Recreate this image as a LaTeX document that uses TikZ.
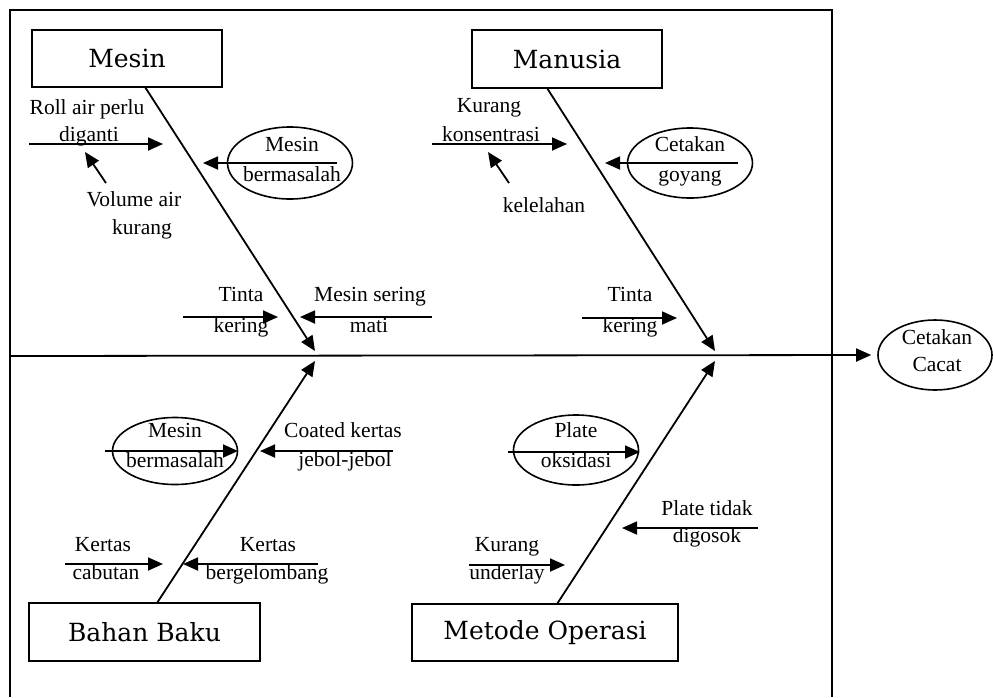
\documentclass[tikz,border=0pt]{standalone}
\usepackage{fontspec}
\setmainfont{Liberation Serif}
\newfontfamily\boxfont{DejaVu Serif}
\usetikzlibrary{arrows.meta,shapes.geometric}
\begin{document}
\begin{tikzpicture}[x=1pt,y=-1pt,
  lbl/.style={font=\fontsize{21.5}{24}\selectfont, inner sep=0pt, text height=14pt, text depth=5pt},
  cat/.style={draw, line width=1.8pt, font=\boxfont\fontsize{25}{30}\selectfont, inner sep=0pt},
  oval/.style={draw, ellipse, line width=1.6pt, inner sep=0pt},
  frame/.style={line width=1.5pt},
  arr/.style={line width=1.8pt, -{Triangle[length=15pt,width=13pt]}},
]
\useasboundingbox (0,0) rectangle (993,697);
\draw[frame] (10,697) -- (10,10) -- (832,10) -- (832,697);

% category boxes
\node[cat, minimum width=190pt, minimum height=57pt] (mesin) at (127,58.5) {Mesin};
\node[cat, minimum width=190pt, minimum height=58pt] (manusia) at (567,59) {Manusia};
\node[cat, minimum width=231pt, minimum height=58pt] (bahan) at (144.5,632) {Bahan Baku};
\node[cat, minimum width=266pt, minimum height=57pt] (metode) at (545,632.5) {Metode Operasi};

% effect
\node[oval, minimum width=114pt, minimum height=70pt] (effect) at (935,355) {};
\node[lbl] (effT1) at (937,340) {Cetakan};
\node[lbl] (effT2) at (937,367) {Cacat};

% spine
\coordinate (spineL) at (10,356);
\draw[arr] (spineL) -- ([xshift=-6pt]effect.west);

% bones
\coordinate (m0) at (145,87);   \coordinate (jm) at (315,351);
\coordinate (u0) at (547,88);   \coordinate (ju) at (715,351);
\coordinate (b0) at (157,603);  \coordinate (jb) at (315,361);
\coordinate (o0) at (557,604);  \coordinate (jo) at (715,361);
\draw[arr] (m0) -- (jm);
\draw[arr] (u0) -- (ju);
\draw[arr] (b0) -- (jb);
\draw[arr] (o0) -- (jo);

% ---- Mesin ----
\node[lbl] (t1a) at (87,110) {Roll air perlu};
\node[lbl] (t1b) at (89,137) {diganti};
\coordinate (a1s) at (29,144); \coordinate (a1e) at (163,144);
\draw[arr] (a1s) -- (a1e);
\node[lbl] (t2a) at (134,202) {Volume air};
\node[lbl] (t2b) at (142,230) {kurang};
\coordinate (a2s) at (106,183); \coordinate (a2e) at (85,152);
\draw[arr] (a2s) -- (a2e);
\node[oval, minimum width=125pt, minimum height=72pt] (e1) at (290,163) {};
\node[lbl] (e1a) at (292,147) {Mesin};
\node[lbl] (e1b) at (292,177) {bermasalah};
\coordinate (a3s) at (337,163); \coordinate (a3e) at (203,163);
\draw[arr] (a3s) -- (a3e);
\node[lbl] (t4a) at (241,297) {Tinta};
\node[lbl] (t4b) at (241,328) {kering};
\coordinate (a4s) at (183,317); \coordinate (a4e) at (278,317);
\draw[arr] (a4s) -- (a4e);
\node[lbl] (t5a) at (370,297) {Mesin sering};
\node[lbl] (t5b) at (369,328) {mati};
\coordinate (a5s) at (432,317); \coordinate (a5e) at (300,317);
\draw[arr] (a5s) -- (a5e);

% ---- Manusia ----
\node[lbl] (t6a) at (489,108) {Kurang};
\node[lbl] (t6b) at (491,137) {konsentrasi};
\coordinate (a6s) at (432,144); \coordinate (a6e) at (567,144);
\draw[arr] (a6s) -- (a6e);
\node[lbl] (t7) at (544,208) {kelelahan};
\coordinate (a7s) at (509,183); \coordinate (a7e) at (488,152);
\draw[arr] (a7s) -- (a7e);
\node[oval, minimum width=125pt, minimum height=70pt] (e2) at (690,163) {};
\node[lbl] (e2a) at (690,147) {Cetakan};
\node[lbl] (e2b) at (690,177) {goyang};
\coordinate (a8s) at (738,163); \coordinate (a8e) at (605,163);
\draw[arr] (a8s) -- (a8e);
\node[lbl] (t9a) at (630,297) {Tinta};
\node[lbl] (t9b) at (630,328) {kering};
\coordinate (a9s) at (582,318); \coordinate (a9e) at (677,318);
\draw[arr] (a9s) -- (a9e);

% ---- Bahan Baku ----
\node[oval, minimum width=125pt, minimum height=67pt] (e3) at (175,451) {};
\node[lbl] (e3a) at (175,433) {Mesin};
\node[lbl] (e3b) at (175,463) {bermasalah};
\coordinate (a10s) at (105,451); \coordinate (a10e) at (238,451);
\draw[arr] (a10s) -- (a10e);
\node[lbl] (t11a) at (343,433) {Coated kertas};
\node[lbl] (t11b) at (345,462) {jebol-jebol};
\coordinate (a11s) at (393,451); \coordinate (a11e) at (260,451);
\draw[arr] (a11s) -- (a11e);
\node[lbl] (t12a) at (103,547) {Kertas};
\node[lbl] (t12b) at (106,575) {cabutan};
\coordinate (a12s) at (65,564); \coordinate (a12e) at (163,564);
\draw[arr] (a12s) -- (a12e);
\node[lbl] (t13a) at (268,547) {Kertas};
\node[lbl] (t13b) at (267,575) {bergelombang};
\coordinate (a13s) at (318,564); \coordinate (a13e) at (183,564);
\draw[arr] (a13s) -- (a13e);

% ---- Metode Operasi ----
\node[oval, minimum width=125pt, minimum height=70pt] (e4) at (576,450) {};
\node[lbl] (e4a) at (576,433) {Plate};
\node[lbl] (e4b) at (576,463) {oksidasi};
\coordinate (a14s) at (508,452); \coordinate (a14e) at (640,452);
\draw[arr] (a14s) -- (a14e);
\node[lbl] (t15a) at (707,511) {Plate tidak};
\node[lbl] (t15b) at (707,538) {digosok};
\coordinate (a15s) at (758,528); \coordinate (a15e) at (622,528);
\draw[arr] (a15s) -- (a15e);
\node[lbl] (t16a) at (507,547) {Kurang};
\node[lbl] (t16b) at (507,575) {underlay};
\coordinate (a16s) at (469,565); \coordinate (a16e) at (565,565);
\draw[arr] (a16s) -- (a16e);
\end{tikzpicture}
\end{document}
